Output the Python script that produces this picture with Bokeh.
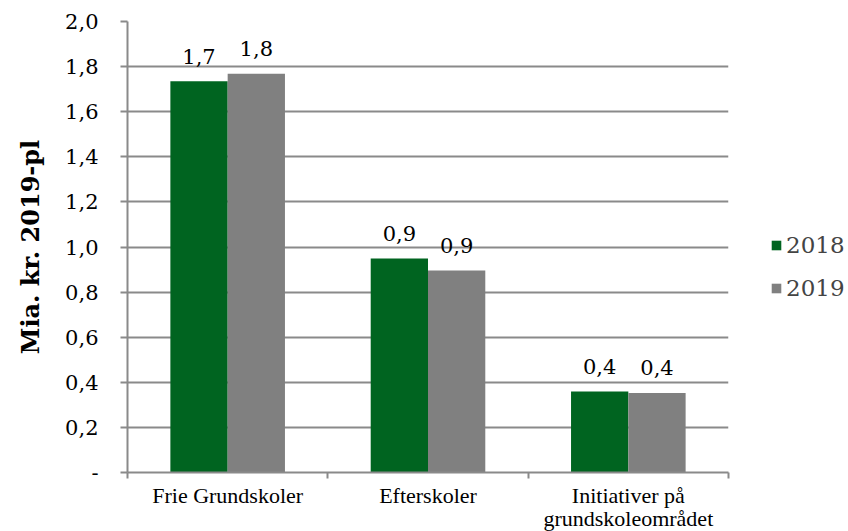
from bokeh.plotting import figure
from bokeh.models import FixedTicker, Range1d, ColumnDataSource, Legend, LegendItem
from bokeh.core.properties import value
from bokeh.embed import file_html
from bokeh.resources import INLINE

categories = ["Frie Grundskoler", "Efterskoler", "Initiativer på\ngrundskoleområdet"]
series_names = ["2018", "2019"]
values_2018 = [1.735, 0.949, 0.359]
values_2019 = [1.768, 0.896, 0.353]
labels_2018 = ["1,7", "0,9", "0,4"]
labels_2019 = ["1,8", "0,9", "0,4"]
y_ticks = [0.0, 0.2, 0.4, 0.6, 0.8, 1.0, 1.2, 1.4, 1.6, 1.8, 2.0]
y_tick_labels = ["-", "0,2", "0,4", "0,6", "0,8", "1,0", "1,2", "1,4", "1,6", "1,8", "2,0"]

GREEN = "#006420"
GRAY = "#808080"
LINE = "#8a8a8a"
NUM_FONT = "DejaVu Serif"
CAT_FONT = "Liberation Serif"

bw = 0.286
centers = [i + 0.5 for i in range(len(categories))]
x18 = [c - bw / 2 for c in centers]
x19 = [c + bw / 2 for c in centers]

p = figure(frame_width=601, frame_height=451, output_backend="svg", toolbar_location=None,
           x_range=Range1d(0, len(categories)), y_range=Range1d(0, 2.0),
           min_border_left=127, min_border_right=120, min_border_top=21, min_border_bottom=57)
p.outline_line_color = None
p.xgrid.grid_line_color = None
p.ygrid.ticker = FixedTicker(ticks=y_ticks)
p.ygrid.grid_line_color = LINE
p.ygrid.grid_line_width = 2

s18 = ColumnDataSource(dict(x=x18, top=values_2018, lab=labels_2018))
s19 = ColumnDataSource(dict(x=x19, top=values_2019, lab=labels_2019))
r18 = p.vbar(x="x", top="top", width=bw, bottom=0, source=s18, fill_color=GREEN, line_color=None)
r19 = p.vbar(x="x", top="top", width=bw, bottom=0, source=s19, fill_color=GRAY, line_color=None)

for s in (s18, s19):
    p.text(x="x", y="top", text="lab", source=s, text_align="center", text_baseline="alphabetic",
           y_offset=-25, text_font=value(NUM_FONT), text_font_size="21px", text_color="#000000")

# x axis
xa = p.xaxis[0]
xa.ticker = FixedTicker(ticks=centers, minor_ticks=[0, 1, 2, 3])
xa.major_label_overrides = {c: lab for c, lab in zip(centers, categories)}
xa.major_tick_line_color = None
xa.minor_tick_line_color = LINE
xa.minor_tick_line_width = 2
xa.minor_tick_out = 6
xa.minor_tick_in = 0
xa.axis_line_color = LINE
xa.axis_line_width = 2
xa.major_label_text_font = CAT_FONT
xa.major_label_text_font_size = "22px"
xa.major_label_text_line_height = 0.92
xa.major_label_text_color = "#000000"
xa.major_label_standoff = 4

# y axis
ya = p.yaxis[0]
ya.ticker = FixedTicker(ticks=y_ticks)
ya.major_label_overrides = {t: lab for t, lab in zip(y_ticks, y_tick_labels)}
ya.minor_tick_line_color = None
ya.major_tick_line_color = LINE
ya.major_tick_line_width = 2
ya.major_tick_out = 7
ya.major_tick_in = 0
ya.axis_line_color = LINE
ya.axis_line_width = 2
ya.major_label_text_font = NUM_FONT
ya.major_label_text_font_size = "21px"
ya.major_label_text_color = "#000000"
ya.major_label_standoff = 22
ya.axis_label = "Mia. kr. 2019-pl"
ya.axis_label_text_font = NUM_FONT
ya.axis_label_text_font_style = "bold"
ya.axis_label_text_font_size = "24px"
ya.axis_label_text_color = "#000000"
ya.axis_label_standoff = 17

legend = Legend(items=[LegendItem(label=series_names[0], renderers=[r18]),
                       LegendItem(label=series_names[1], renderers=[r19])],
                location=(42, 171), orientation="vertical")
legend.border_line_color = None
legend.background_fill_alpha = 0
legend.glyph_width = 12
legend.glyph_height = 12
legend.label_text_font = NUM_FONT
legend.label_text_font_size = "23px"
legend.label_standoff = 4
legend.spacing = 17
legend.padding = 0
legend.margin = 0
p.add_layout(legend, "right")

open("out.html", "w").write(file_html(p, INLINE))
